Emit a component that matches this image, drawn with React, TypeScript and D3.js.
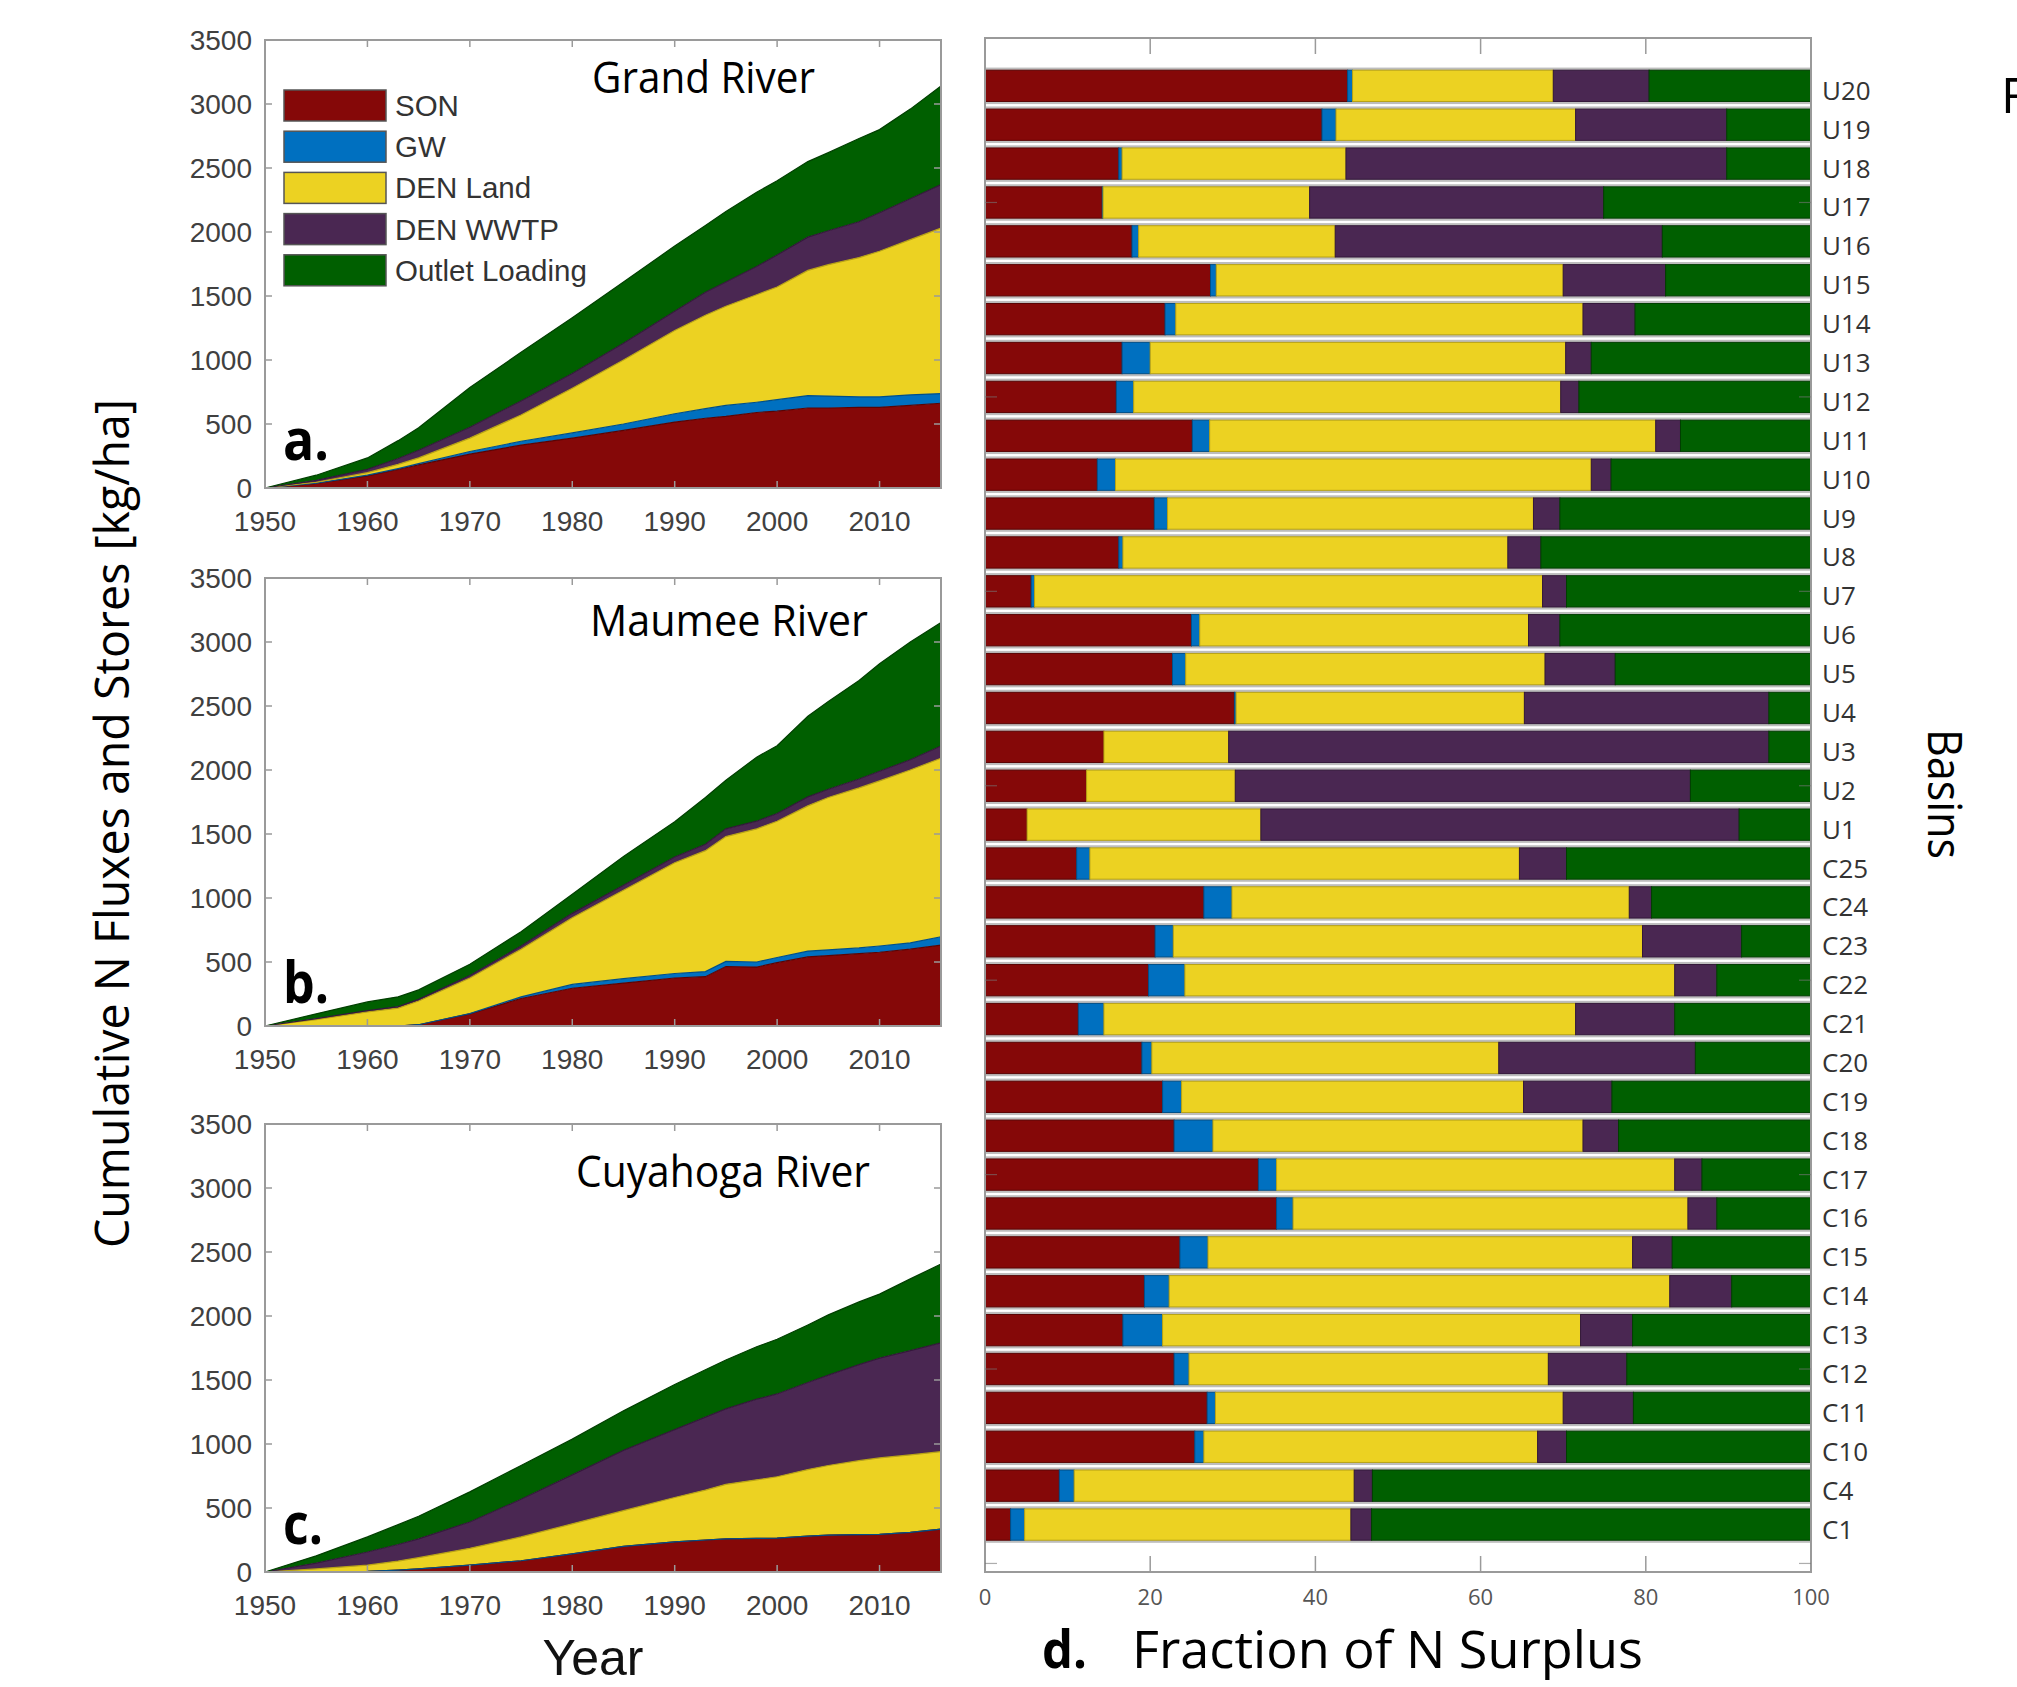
import React from 'react';
import * as d3 from 'd3';

// ---------- data ----------
const layerNames = ['SON', 'GW', 'DEN Land', 'DEN WWTP', 'Outlet Loading'];
const layerColors = ['#850808', '#0070c0', '#ecd222', '#4a2752', '#005f00'];
const edgeColors = ['#5a0404', '#004f88', '#b8a314', '#33183a', '#003f00'];

const years = [1950, 1955, 1960, 1963, 1965, 1970, 1975, 1980, 1985, 1990, 1993, 1995, 1998, 2000, 2003, 2005, 2008, 2010, 2013, 2016];

// cumulative upper boundary of each stacked layer (kg/ha)
const grandSON   = [0, 35, 95, 145, 180, 265, 335, 390, 450, 515, 545, 560, 590, 600, 625, 625, 630, 630, 645, 662];
const grandGW    = [0, 37, 100, 152, 190, 285, 365, 430, 500, 580, 620, 645, 670, 690, 722, 718, 712, 712, 728, 738];
const grandLand  = [0, 45, 120, 185, 235, 390, 570, 780, 1000, 1230, 1350, 1420, 1510, 1570, 1700, 1745, 1800, 1850, 1940, 2030];
const grandWWTP  = [0, 60, 145, 230, 295, 475, 680, 895, 1130, 1380, 1530, 1610, 1730, 1820, 1960, 2010, 2080, 2150, 2260, 2370];
const grandTotal = [0, 100, 235, 370, 470, 785, 1060, 1330, 1610, 1890, 2050, 2160, 2310, 2400, 2550, 2620, 2730, 2800, 2960, 3140];

const maumeeSON   = [0, 0, 0, 0, 10, 95, 215, 295, 335, 375, 385, 465, 460, 495, 540, 550, 565, 576, 600, 632];
const maumeeGW    = [0, 0, 0, 0, 10, 97, 228, 325, 370, 410, 425, 505, 500, 535, 585, 595, 610, 625, 650, 697];
const maumeeLand  = [0, 50, 110, 140, 195, 375, 600, 845, 1060, 1275, 1370, 1480, 1540, 1600, 1720, 1785, 1860, 1915, 2000, 2092];
const maumeeWWTP  = [0, 58, 120, 152, 208, 395, 625, 880, 1100, 1320, 1420, 1540, 1600, 1660, 1790, 1850, 1930, 1990, 2080, 2187];
const maumeeTotal = [0, 95, 188, 228, 282, 483, 737, 1030, 1325, 1595, 1785, 1920, 2100, 2190, 2420, 2535, 2700, 2830, 3000, 3152];

const cuyaSON   = [0, 2, 6, 15, 24, 53, 88, 141, 200, 235, 250, 259, 262, 265, 280, 288, 292, 294, 310, 335];
const cuyaGW    = [0, 2, 6, 15, 24, 53, 88, 141, 200, 235, 250, 259, 262, 265, 280, 288, 292, 294, 310, 335];
const cuyaLand  = [0, 24, 53, 85, 112, 185, 274, 376, 479, 582, 640, 685, 720, 744, 800, 832, 870, 891, 915, 940];
const cuyaWWTP  = [0, 70, 156, 215, 259, 391, 568, 759, 950, 1112, 1210, 1274, 1350, 1391, 1480, 1538, 1620, 1671, 1730, 1790];
const cuyaTotal = [0, 126, 274, 370, 435, 626, 832, 1038, 1259, 1465, 1580, 1656, 1760, 1818, 1930, 2009, 2110, 2171, 2290, 2406];

const yTicks = [0, 500, 1000, 1500, 2000, 2500, 3000, 3500];
const xTicks = [1950, 1960, 1970, 1980, 1990, 2000, 2010];

// panel d: fraction of N surplus (%)
const basins = ['U20', 'U19', 'U18', 'U17', 'U16', 'U15', 'U14', 'U13', 'U12', 'U11', 'U10', 'U9', 'U8', 'U7', 'U6', 'U5', 'U4', 'U3', 'U2', 'U1',
  'C25', 'C24', 'C23', 'C22', 'C21', 'C20', 'C19', 'C18', 'C17', 'C16', 'C15', 'C14', 'C13', 'C12', 'C11', 'C10', 'C4', 'C1'];
const sonPct    = [43.9, 40.8, 16.2, 14.2, 17.8, 27.3, 21.8, 16.6, 15.9, 25.1, 13.6, 20.5, 16.2, 5.6, 25.0, 22.7, 30.2, 14.4, 12.3, 5.1,
  11.1, 26.5, 20.6, 19.8, 11.3, 19.0, 21.5, 22.9, 33.1, 35.3, 23.6, 19.3, 16.7, 22.9, 26.9, 25.4, 9.0, 3.1];
const gwPct     = [0.6, 1.7, 0.4, 0.1, 0.8, 0.7, 1.3, 3.4, 2.1, 2.1, 2.2, 1.6, 0.5, 0.4, 1.0, 1.6, 0.2, 0.0, 0.0, 0.0,
  1.6, 3.4, 2.2, 4.4, 3.1, 1.2, 2.3, 4.7, 2.2, 2.0, 3.4, 3.0, 4.8, 1.8, 1.0, 1.1, 1.8, 1.7];
const landPct   = [24.3, 29.0, 27.1, 25.0, 23.8, 42.0, 49.3, 50.3, 51.7, 54.0, 57.6, 44.3, 46.6, 61.5, 39.8, 43.5, 34.9, 15.1, 18.0, 28.3,
  52.0, 48.1, 56.8, 59.3, 57.1, 42.0, 41.4, 44.8, 48.2, 47.8, 51.4, 60.6, 50.6, 43.5, 42.1, 40.4, 33.9, 39.5];
const wwtpPct   = [11.6, 18.3, 46.1, 35.6, 39.6, 12.4, 6.3, 3.1, 2.2, 3.0, 2.4, 3.2, 4.0, 2.9, 3.8, 8.5, 29.6, 65.4, 55.1, 57.9,
  5.7, 2.7, 12.0, 5.1, 12.0, 23.8, 10.7, 4.3, 3.3, 3.5, 4.8, 7.5, 6.3, 9.5, 8.5, 3.5, 2.2, 2.5];
const outletPct = [19.6, 10.2, 10.2, 25.1, 18.0, 17.6, 21.3, 26.6, 28.1, 15.8, 24.2, 30.4, 32.7, 29.6, 30.4, 23.7, 5.1, 5.1, 14.6, 8.7,
  29.6, 19.3, 8.4, 11.4, 16.5, 14.0, 24.1, 23.3, 13.2, 11.4, 16.8, 9.6, 21.6, 22.3, 21.5, 29.6, 53.1, 53.2];
const fracTicks = [0, 20, 40, 60, 80, 100];
const basinTicks = [0, 5, 10, 15, 20, 25, 30, 35];

// ---------- layout ----------
const W = 2017, H = 1687;
const L = { x0: 265, x1: 941 };
const panelDefs = [
  { title: 'Grand River', label: 'a.', tops: [grandSON, grandGW, grandLand, grandWWTP, grandTotal], y0: 40, titleX: 592, titleLen: 223, titleY: 93, labelY: 460, labelLen: 46, legend: true },
  { title: 'Maumee River', label: 'b.', tops: [maumeeSON, maumeeGW, maumeeLand, maumeeWWTP, maumeeTotal], y0: 578, titleX: 590, titleLen: 278, titleY: 636, labelY: 1003, labelLen: 46, legend: false },
  { title: 'Cuyahoga River', label: 'c.', tops: [cuyaSON, cuyaGW, cuyaLand, cuyaWWTP, cuyaTotal], y0: 1124, titleX: 576, titleLen: 294, titleY: 1187, labelY: 1544, labelLen: 40, legend: false },
];
const PH = 448;
const D = { x0: 985, x1: 1811, y0: 38, y1: 1572 };

const AX = '#9a9a9a';
const TICKTXT = '#404040';
const HELV = '"Liberation Sans", Arial, Helvetica, sans-serif';
const CAL = '"Open Sans", "Noto Sans", sans-serif';

function AreaPanel({ p }: { p: typeof panelDefs[number] }) {
  const x = d3.scaleLinear().domain([1950, 2016]).range([L.x0, L.x1]);
  const y = d3.scaleLinear().domain([0, 3500]).range([p.y0 + PH, p.y0]);
  const areas = p.tops.map((top, k) => {
    const below = k === 0 ? null : p.tops[k - 1];
    const gen = d3.area<number>()
      .x((_, i) => x(years[i]))
      .y0((_, i) => y(below ? below[i] : 0))
      .y1((_, i) => y(top[i]));
    return gen(years as any) as string;
  });
  const lines = p.tops.map((top) =>
    d3.line<number>().x((_, i) => x(years[i])).y((_, i) => y(top[i]))(years as any) as string);
  const bottom = p.y0 + PH;
  return (
    <g>
      {areas.map((d, k) => (
        <path key={k} d={d} fill={layerColors[k]} />
      ))}
      {lines.map((d, k) => (
        <path key={'l' + k} d={d} fill="none" stroke={edgeColors[k]} strokeWidth={1.2} />
      ))}
      <rect x={L.x0} y={p.y0} width={L.x1 - L.x0} height={PH} fill="none" stroke={AX} strokeWidth={2} />
      {yTicks.map((t) => (
        <g key={'y' + t}>
          <line x1={L.x0} x2={L.x0 + 7} y1={y(t)} y2={y(t)} stroke={AX} strokeWidth={1.5} />
          <line x1={L.x1} x2={L.x1 - 7} y1={y(t)} y2={y(t)} stroke={AX} strokeWidth={1.5} />
          <text x={252} y={y(t) + 10} textAnchor="end" fontFamily={HELV} fontSize={28} fill={TICKTXT}>{t}</text>
        </g>
      ))}
      {xTicks.map((t) => (
        <g key={'x' + t}>
          <line x1={x(t)} x2={x(t)} y1={p.y0} y2={p.y0 + 7} stroke={AX} strokeWidth={1.5} />
          <line x1={x(t)} x2={x(t)} y1={bottom} y2={bottom - 7} stroke={AX} strokeWidth={1.5} />
          <text x={x(t)} y={bottom + 43} textAnchor="middle" fontFamily={HELV} fontSize={28} fill={TICKTXT}>{t}</text>
        </g>
      ))}
      <text x={p.titleX} y={p.titleY} fontFamily={CAL} fontSize={43} fill="#000" textLength={p.titleLen} lengthAdjust="spacingAndGlyphs">{p.title}</text>
      <text x={283} y={p.labelY} fontFamily={CAL} fontWeight={700} fontSize={58} fill="#000" textLength={p.labelLen} lengthAdjust="spacingAndGlyphs">{p.label}</text>
      {p.legend && (
        <g>
          {layerNames.map((n, k) => {
            const cy = 105.5 + k * 41.2;
            return (
              <g key={n}>
                <rect x={284} y={cy - 15.5} width={102} height={31} fill={layerColors[k]} stroke="#555" strokeWidth={1.5} />
                <text x={395} y={cy + 10.5} fontFamily={HELV} fontSize={29.5} fill="#333">{n}</text>
              </g>
            );
          })}
        </g>
      )}
    </g>
  );
}

function BarPanel() {
  const x = d3.scaleLinear().domain([0, 100]).range([D.x0, D.x1]);
  const y = d3.scaleLinear().domain([-0.22, 39.23]).range([D.y1, D.y0]);
  const n = basins.length;
  const rows = basins.map((b, i) => ({ b, pos: n - i, son: sonPct[i], gw: gwPct[i], land: landPct[i], wwtp: wwtpPct[i], out: outletPct[i] }));
  const keys = ['son', 'gw', 'land', 'wwtp', 'out'];
  const stack = d3.stack<any>().keys(keys)(rows);
  const bh = (y(0) - y(0.805));
  return (
    <g>
      {rows.map((r) => (
        <rect key={'bg' + r.b} x={D.x0} width={D.x1 - D.x0} y={y(r.pos) - bh / 2 - 2.6} height={bh + 5.2} fill="#bdbdbd" />
      ))}
      {stack.map((s, k) => (
        <g key={keys[k]}>
          {s.map((d, i) => (
            <rect key={i} x={x(d[0])} width={Math.max(0, x(d[1]) - x(d[0]))} y={y(rows[i].pos) - bh / 2} height={bh}
              fill={layerColors[k]} stroke={edgeColors[k]} strokeWidth={1} />
          ))}
        </g>
      ))}
      <rect x={D.x0} y={D.y0} width={D.x1 - D.x0} height={D.y1 - D.y0} fill="none" stroke={AX} strokeWidth={2} />
      {fracTicks.map((t) => (
        <g key={'f' + t}>
          <line x1={x(t)} x2={x(t)} y1={D.y0} y2={D.y0 + 16} stroke={AX} strokeWidth={1.5} />
          <line x1={x(t)} x2={x(t)} y1={D.y1} y2={D.y1 - 16} stroke={AX} strokeWidth={1.5} />
          <text x={x(t)} y={1605} textAnchor="middle" fontFamily={CAL} fontSize={22} fill="#555">{t}</text>
        </g>
      ))}
      {basinTicks.map((t) => (
        <g key={'bt' + t}>
          <line x1={D.x0} x2={D.x0 + 12} y1={y(t)} y2={y(t)} stroke="#777" strokeWidth={1.2} opacity={0.6} />
          <line x1={D.x1} x2={D.x1 - 12} y1={y(t)} y2={y(t)} stroke="#777" strokeWidth={1.2} opacity={0.6} />
        </g>
      ))}
      {rows.map((r) => (
        <text key={'lab' + r.b} x={1822} y={y(r.pos) + 14} fontFamily={CAL} fontSize={26} fill="#333">{r.b}</text>
      ))}
    </g>
  );
}

export default function App() {
  return (
    <svg width={W} height={H} viewBox={`0 0 ${W} ${H}`} style={{ position: 'absolute', left: 0, top: 0, background: '#fff' }}>
      <rect x={0} y={0} width={W} height={H} fill="#fff" />
      {panelDefs.map((p) => (
        <AreaPanel key={p.title} p={p} />
      ))}
      <BarPanel />
      <text transform="translate(129,823.5) rotate(-90)" textAnchor="middle" fontFamily={CAL} fontSize={48} fill="#000" textLength={849} lengthAdjust="spacingAndGlyphs">Cumulative N Fluxes and Stores [kg/ha]</text>
      <text x={593} y={1675} textAnchor="middle" fontFamily={HELV} fontSize={50} fill="#111">Year</text>
      <text transform="translate(1928,794) rotate(90)" textAnchor="middle" fontFamily={CAL} fontSize={48} fill="#000" textLength={130} lengthAdjust="spacingAndGlyphs">Basins</text>
      <text x={2001} y={113} fontFamily={CAL} fontSize={50} fill="#000">F</text>
      <text x={1042} y={1668} fontFamily={CAL} fontWeight={700} fontSize={52} fill="#000" textLength={45} lengthAdjust="spacingAndGlyphs">d.</text>
      <text x={1132} y={1668} fontFamily={CAL} fontSize={51} fill="#000" textLength={511} lengthAdjust="spacingAndGlyphs">Fraction of N Surplus</text>
    </svg>
  );
}
